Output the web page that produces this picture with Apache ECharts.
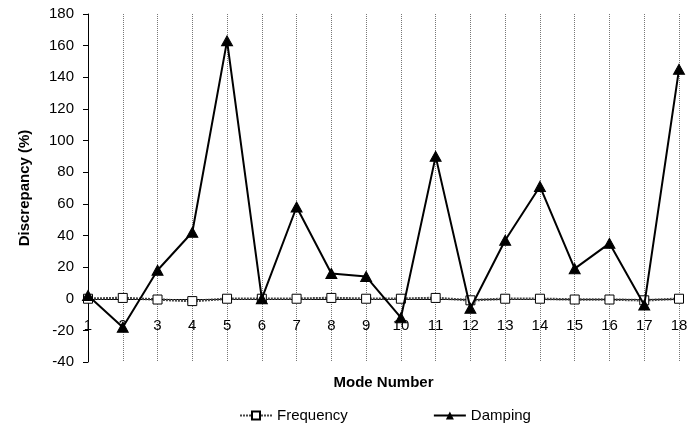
<!DOCTYPE html>
<html>
<head>
<meta charset="utf-8">
<script src="https://cdn.jsdelivr.net/npm/echarts@6/dist/echarts.min.js"></script>
<style>html,body{margin:0;padding:0;background:#fff}#c{width:692px;height:432px}</style>
</head>
<body>
<div id="c"></div>
<script>
const modes = ['1','2','3','4','5','6','7','8','9','10','11','12','13','14','15','16','17','18'];
const frequency = [0, 0.5, -0.5, -1.5, 0, 0, 0, 0.5, 0, 0, 0.5, -1, 0, 0, -0.5, -0.5, -1, 0];
const damping = [2, -18, 18, 42, 163, 0, 58, 16, 14, -12, 90, -6, 37, 71, 19, 35, -4, 145];
const yTicks = {min: -40, max: 180, interval: 20};

const chart = echarts.init(document.getElementById('c'));
const font = 'Liberation Sans, Arial, sans-serif';
chart.setOption({
  animation: false,
  textStyle: {fontFamily: font},
  grid: {left: 88, right: 13, top: 14, bottom: 70, containLabel: false, outerBoundsMode: 'none'},
  legend: {
    left: 234, top: 403, itemWidth: 32, itemHeight: 10, itemGap: 85,
    textStyle: {fontFamily: font, fontSize: 15, color: '#000'},
    data: ['Frequency', 'Damping']
  },
  xAxis: {
    type: 'category', data: modes, boundaryGap: false,
    offset: -63,
    name: 'Mode Number', nameLocation: 'middle', nameGap: 76,
    nameTextStyle: {fontFamily: font, fontSize: 15, fontWeight: 'bold', color: '#000'},
    axisLine: {onZero: false, lineStyle: {color: '#000', width: 1}},
    axisTick: {show: false},
    axisLabel: {fontFamily: font, fontSize: 15, color: '#000', margin: 19, interval: 0},
    splitLine: {show: true, interval: 0, lineStyle: {color: '#777', type: [1, 1], width: 1}}
  },
  yAxis: {
    type: 'value', min: yTicks.min, max: yTicks.max, interval: yTicks.interval,
    name: 'Discrepancy (%)', nameLocation: 'middle', nameGap: 56,
    nameTextStyle: {fontFamily: font, fontSize: 15, fontWeight: 'bold', color: '#000'},
    axisLine: {show: true, lineStyle: {color: '#000', width: 1}},
    axisTick: {show: true, length: 5, lineStyle: {color: '#000'}},
    axisLabel: {fontFamily: font, fontSize: 15, color: '#000', margin: 14},
    splitLine: {show: false}
  },
  series: [
    {
      name: 'Frequency', type: 'line', data: frequency,
      symbol: 'rect', symbolSize: 9,
      itemStyle: {color: '#fff', borderColor: '#000', borderWidth: 1},
      lineStyle: {color: '#444', width: 2.5, type: [2, 1]},
      z: 2
    },
    {
      name: 'Damping', type: 'line', data: damping,
      symbol: 'triangle', symbolSize: [11, 10],
      itemStyle: {color: '#000', borderColor: '#000'},
      lineStyle: {color: '#000', width: 2},
      z: 3
    }
  ]
});
</script>
</body>
</html>
